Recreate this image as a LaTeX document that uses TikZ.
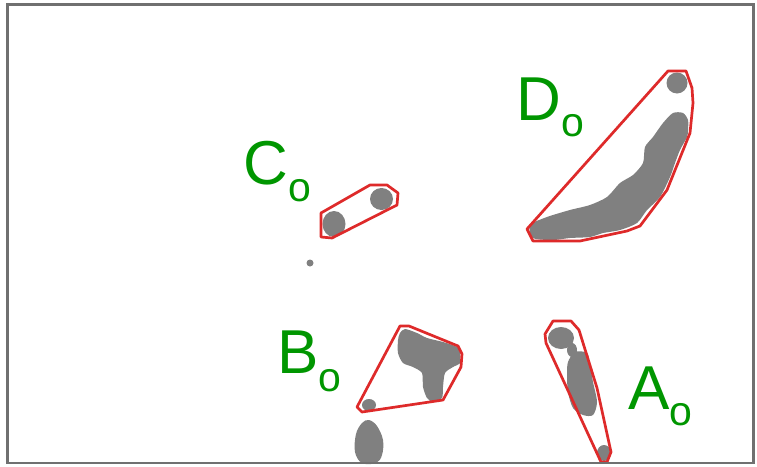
\documentclass[tikz,border=0pt]{standalone}
\usepackage{fontspec}
\setmainfont{Liberation Sans}
\definecolor{blobgray}{RGB}{128,128,128}
\definecolor{hullred}{RGB}{222,42,42}
\definecolor{labelgreen}{RGB}{0,150,0}
\definecolor{framegray}{RGB}{112,112,112}
\newcommand{\subo}[1]{{\fontsize{41}{41}\selectfont\raisebox{-#1pt}{o}}}
\begin{document}
\begin{tikzpicture}[x=1pt,y=-1pt,
  blob/.style={fill=blobgray,draw=none},
  hull/.style={draw=hullred,line width=2.7pt,line join=round},
  cluster/.style={text=labelgreen,inner sep=0pt,anchor=base west,font=\fontsize{62}{62}\selectfont}]
\useasboundingbox (0,0) rectangle (757,466);
\fill[white] (0,0) rectangle (757,466);

% blobs of cluster D
\fill[blob] (677,83) circle[radius=10.5pt];
\fill[blob] plot[smooth cycle,tension=0.45] coordinates {
  (530,225) (547,217) (570,210) (590,205) (607,197) (620,183) (633,175)
  (643,163) (645,147) (653,137) (663,123) (673,113) (683,113) (688,120)
  (688,130) (687,137) (680,150) (675,163) (670,177) (660,197) (647,210)
  (637,223) (620,230) (603,233) (590,237) (570,238) (553,240) (533,238)};

% blobs of cluster C
\fill[blob] (334,224) ellipse[x radius=11.5pt,y radius=13pt];
\fill[blob] (381.5,199) ellipse[x radius=11.5pt,y radius=11pt];
\fill[blob] (310,263) circle[radius=3.5pt];

% blobs of cluster B
\fill[blob] plot[smooth cycle,tension=0.45] coordinates {
  (400,333) (405,329) (417,333) (427,338) (443,342) (457,347) (460,353)
  (460,363) (453,367) (445,373) (443,387) (442,398) (433,402) (427,398)
  (423,387) (422,373) (413,367) (403,363) (398,353) (398,340)};
\fill[blob] (369,405) ellipse[x radius=7pt,y radius=6pt];
\fill[blob] plot[smooth cycle,tension=0.6] coordinates {
  (369,420) (377,426) (383,440) (382,455) (376,463) (362,463) (355,452)
  (356,434) (362,423)};

% blobs of cluster A
\fill[blob] (561,338) ellipse[x radius=13pt,y radius=11pt];
\fill[blob] (572,350) ellipse[x radius=5pt,y radius=7pt];
\fill[blob] plot[smooth cycle,tension=0.5] coordinates {
  (575,352) (587,353) (590,365) (593,382) (597,402) (593,415) (583,415)
  (573,408) (568,392) (567,375) (568,362)};
\fill[blob] (604,453) ellipse[x radius=7pt,y radius=8pt];

% convex hulls
\draw[hull] (527,229) -- (668,71) -- (686,71) -- (692,88) -- (693,103)
  -- (690,133) -- (667,190) -- (640,226) -- (627,231) -- (580,241)
  -- (533,241) -- cycle;
\draw[hull] (321,213) -- (370,185) -- (387,185) -- (398,193) -- (397,205)
  -- (332,238) -- (321,237) -- cycle;
\draw[hull] (357,407) -- (400,326) -- (409,326) -- (458,346) -- (462,354)
  -- (461,367) -- (443,400) -- (362,412) -- cycle;
\draw[hull] (545,334) -- (553,321) -- (571,321) -- (579,330) -- (597,388)
  -- (611,452) -- (607,462) -- (601,462) -- (546,343) -- cycle;

% cluster labels
\node[cluster] (labD) at (516.5,120) {D\subo{16}};
\node[cluster] (labC) at (243.5,184) {C\subo{17}};
\node[cluster] (labB) at (277,373) {B\subo{18}};
\node[cluster] (labA) at (628,409) {A\subo{16}};

% frame
\draw[framegray,line width=2.4pt] (7.5,4.5) rectangle (753.5,463);
\end{tikzpicture}
\end{document}
